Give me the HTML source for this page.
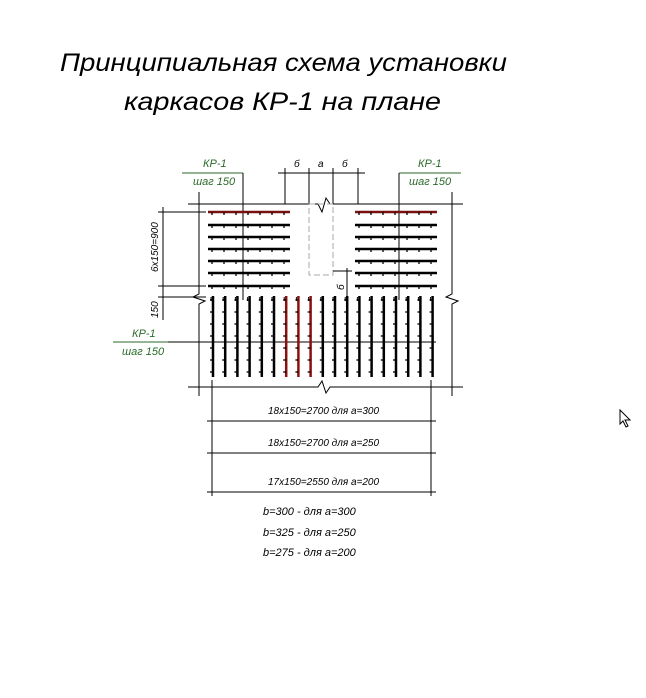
<!DOCTYPE html>
<html><head><meta charset="utf-8"><style>
html,body{margin:0;padding:0;background:#fff;width:646px;height:698px;overflow:hidden}
svg{display:block}
text{font-family:"Liberation Sans","DejaVu Sans",sans-serif;font-style:italic}
</style></head><body>
<svg id="s" width="646" height="698" viewBox="0 0 646 698" xmlns="http://www.w3.org/2000/svg">
<text x="60" y="71" font-size="25" textLength="447" lengthAdjust="spacingAndGlyphs">Принципиальная схема установки</text>
<text x="124" y="110" font-size="25" textLength="317" lengthAdjust="spacingAndGlyphs">каркасов КР-1 на плане</text>
<g stroke="#000" stroke-width="1" fill="none">
<polyline points="188,204 318,204 322,212 326,198 330,204 463,204"/>
<polyline points="188,387 318,387 322,381 326,393 330,387 463,387"/>
<polyline points="199,192 199,294 193,297 205,301 199,304 199,396"/>
<polyline points="452,192 452,294 446,297 458,301 452,304 452,396"/>
<line x1="182" y1="173" x2="243" y2="173" stroke="#2a6a2a"/>
<line x1="243" y1="173" x2="243" y2="300"/>
<line x1="399" y1="173" x2="461" y2="173" stroke="#2a6a2a"/>
<line x1="399" y1="173" x2="399" y2="300"/>
<line x1="278" y1="173" x2="365" y2="173"/>
<line x1="285" y1="168" x2="285" y2="204"/><line x1="309" y1="168" x2="309" y2="204"/>
<line x1="333" y1="168" x2="333" y2="204"/><line x1="358" y1="168" x2="358" y2="204"/>
<rect x="309" y="204" width="24" height="71" stroke="#aaa" stroke-dasharray="6,3"/>
<line x1="333" y1="271" x2="352" y2="271"/>
<line x1="163" y1="207" x2="163" y2="320"/>
<line x1="158" y1="212" x2="206" y2="212"/>
<line x1="158" y1="286" x2="206" y2="286"/>
<line x1="158" y1="297" x2="206" y2="297"/>
<line x1="347" y1="268" x2="347" y2="300"/>
<line x1="113" y1="342" x2="168" y2="342" stroke="#2a6a2a"/>
<line x1="168" y1="342" x2="436" y2="342"/>
<line x1="212" y1="380" x2="212" y2="496"/><line x1="431" y1="380" x2="431" y2="496"/>
<line x1="207" y1="421" x2="436" y2="421"/>
<line x1="207" y1="453" x2="436" y2="453"/>
<line x1="207" y1="492" x2="436" y2="492"/>
</g>
<g id="bars"></g>
<g fill="#2a6a2a" font-size="11">
<text x="203" y="167">КР-1</text><text x="193" y="185">шаг 150</text>
<text x="418" y="167">КР-1</text><text x="409" y="185">шаг 150</text>
<text x="132" y="337">КР-1</text><text x="122" y="355">шаг 150</text>
</g>
<g fill="#000" font-size="10">
<text x="294" y="167">б</text><text x="318" y="167">а</text><text x="342" y="167">б</text>
<text transform="translate(158,272) rotate(-90)">6х150=900</text>
<text transform="translate(158,318) rotate(-90)">150</text>
<text transform="translate(344,290) rotate(-90)">б</text>
<text x="268" y="414">18х150=2700 для а=300</text>
<text x="268" y="446">18х150=2700 для а=250</text>
<text x="268" y="485">17х150=2550 для а=200</text>
<text x="263" y="515" font-size="11">b=300 - для а=300</text>
<text x="263" y="536" font-size="11">b=325 - для а=250</text>
<text x="263" y="556" font-size="11">b=275 - для а=200</text>
</g>
<path d="M620 410 L620 424 L623 421 L626 427 L628 426 L625 420 L630 420 Z" fill="#fff" stroke="#000" stroke-width="1"/>
</svg>
<script>
var g=document.getElementById('bars'),ns='http://www.w3.org/2000/svg',h='';
function L(a,b,c,d,col,w){h+='<line x1="'+a+'" y1="'+b+'" x2="'+c+'" y2="'+d+'" stroke="'+col+'" stroke-width="'+w+'"/>';}
var ys=[212,225,237,249,261,273,286];
ys.forEach(function(y,i){var c=i==0?'#7a1010':'#000';
 L(208,y,290,y,c,2.5);L(355,y,437,y,c,2.5);
 for(var x=212;x<290;x+=12){L(x,y,x,y+3,'#000',1.3);}
 for(var x=359;x<437;x+=12){L(x,y,x,y+3,'#000',1.3);}});
for(var i=0;i<19;i++){var x=213+i*12.2;var c=(i>=6&&i<=8)?'#8b1010':'#000';
 L(x,296,x,377,c,2.5);
 for(var y=300;y<377;y+=12){L(x-3,y,x,y,'#000',1.3);}
 L(x-2,297,x-2,301,'#000',1);}
g.innerHTML=h;
</script>
</body></html>
